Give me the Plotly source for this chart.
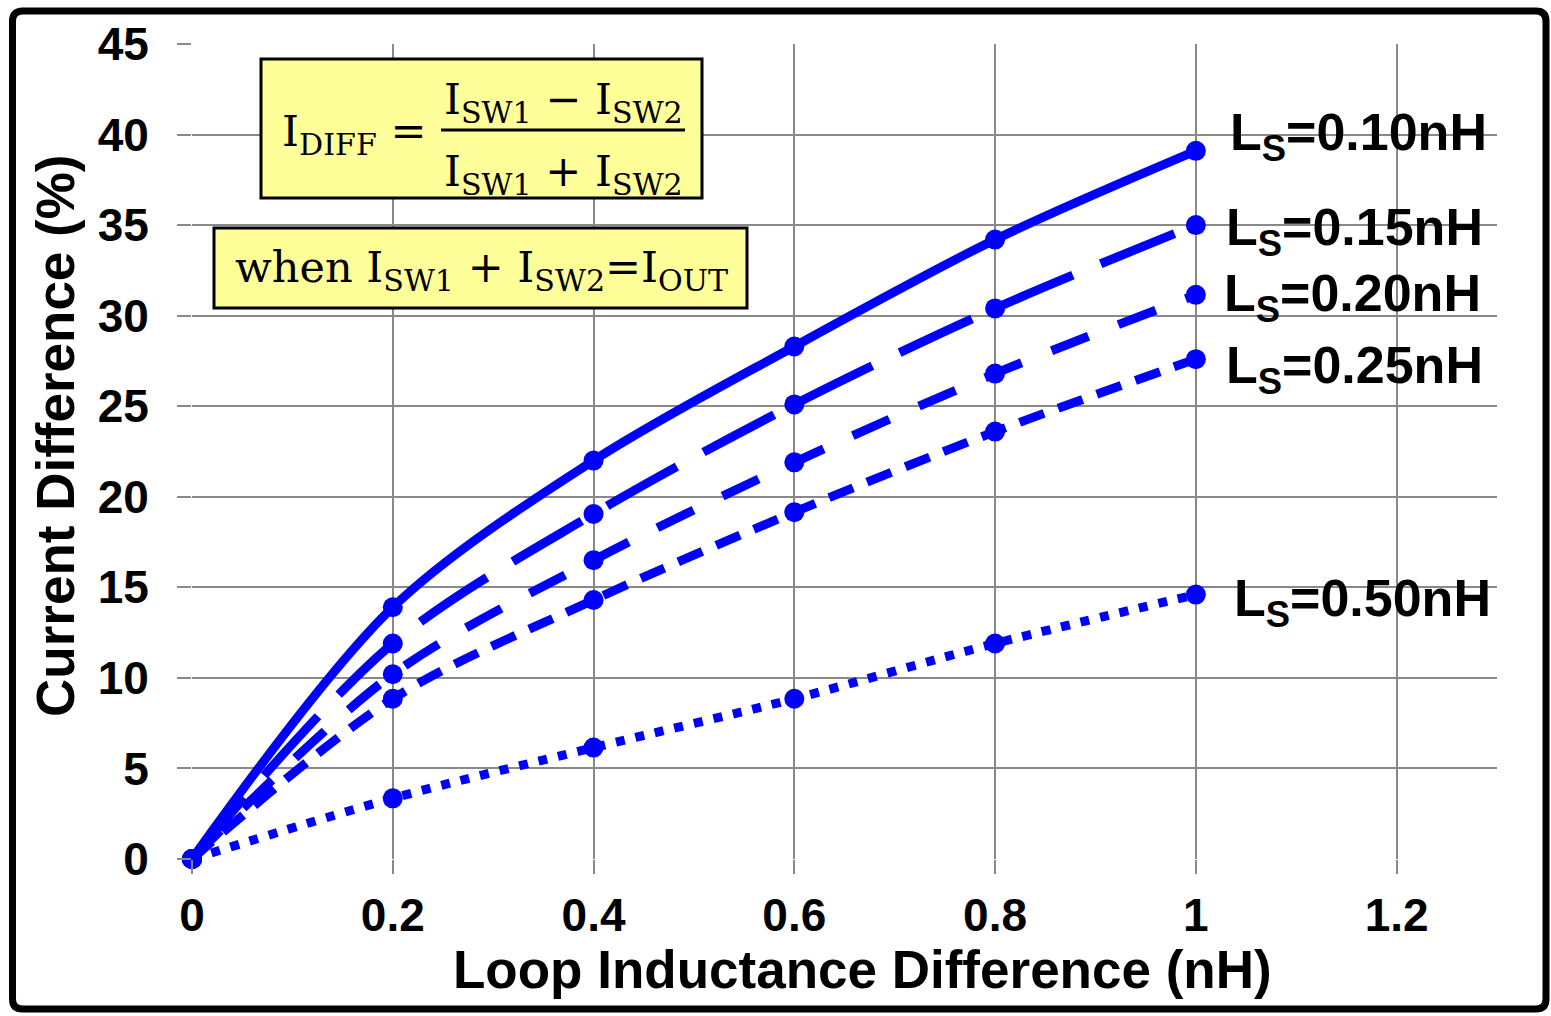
import plotly.graph_objects as go

# ---- data ----
x_vals = [0, 0.2, 0.4, 0.6, 0.8, 1.0]
ls_010 = [0, 13.9, 22.0, 28.3, 34.2, 39.1]
ls_015 = [0, 11.9, 19.05, 25.1, 30.4, 35.0]
ls_020 = [0, 10.2, 16.5, 21.9, 26.8, 31.15]
ls_025 = [0, 8.85, 14.3, 19.15, 23.6, 27.6]
ls_050 = [0, 3.35, 6.15, 8.85, 11.9, 14.6]
series_names = ["L<sub>S</sub>=0.10nH", "L<sub>S</sub>=0.15nH", "L<sub>S</sub>=0.20nH",
                "L<sub>S</sub>=0.25nH", "L<sub>S</sub>=0.50nH"]
x_ticks = [0, 0.2, 0.4, 0.6, 0.8, 1.0, 1.2]
x_tick_text = ["0", "0.2", "0.4", "0.6", "0.8", "1", "1.2"]
y_ticks = list(range(0, 50, 5))

W, H = 1551, 1016
L, R, T, B = 192, 1497, 44, 859
BLUE = "#0000FF"
GRID = "#898989"
SANS = "Liberation Sans, Arial, sans-serif"
SERIF = "DejaVu Serif, serif"


def px(x):
    return (x - L) / (R - L)


def py(y):
    return (B - y) / (B - T)


fig = go.Figure()
series = [ls_010, ls_015, ls_020, ls_025, ls_050]
dashes = ["solid", "80px,30px", "40px,32px", "26px,15px", "9px,11px"]
for vals, d, name in zip(series, dashes, series_names):
    fig.add_trace(go.Scatter(
        x=x_vals, y=vals, mode="lines+markers", name=name,
        line=dict(color=BLUE, width=9, dash=d, shape="spline", smoothing=0.9),
        marker=dict(color=BLUE, size=20),
        cliponaxis=False, showlegend=False))

# series labels (left edge px, cap-centre px)
label_pos = [(1228, 133), (1224, 228), (1222, 294), (1224, 366), (1232, 599)]
annotations = []
for name, (lx, ly) in zip(series_names, label_pos):
    annotations.append(dict(
        xref="paper", yref="paper", x=px(lx), y=py(ly + 3), xanchor="left", yanchor="middle",
        text=name, showarrow=False,
        font=dict(family=SANS, size=52, color="black", weight="bold")))

# axis titles
annotations.append(dict(xref="paper", yref="paper", x=px(862), y=py(969), xanchor="center",
                        yanchor="middle", text="Loop Inductance Difference (nH)", showarrow=False,
                        font=dict(family=SANS, size=53, color="black", weight="bold")))
annotations.append(dict(xref="paper", yref="paper", x=px(55), y=py(436), xanchor="center",
                        yanchor="middle", text="Current Difference (%)", showarrow=False, textangle=-90,
                        font=dict(family=SANS, size=53, color="black", weight="bold")))

# formula
FS = 43
annotations.append(dict(xref="paper", yref="paper", x=px(280), y=py(134), xanchor="left", yanchor="middle",
                        text="I<sub>DIFF</sub> =", showarrow=False,
                        font=dict(family=SERIF, size=FS, color="black")))
annotations.append(dict(xref="paper", yref="paper", x=px(563), y=py(102), xanchor="center", yanchor="middle",
                        text="I<sub>SW1</sub> − I<sub>SW2</sub>", showarrow=False,
                        font=dict(family=SERIF, size=FS, color="black")))
annotations.append(dict(xref="paper", yref="paper", x=px(563), y=py(174), xanchor="center", yanchor="middle",
                        text="I<sub>SW1</sub> + I<sub>SW2</sub>", showarrow=False,
                        font=dict(family=SERIF, size=FS, color="black")))
annotations.append(dict(xref="paper", yref="paper", x=px(233), y=py(270), xanchor="left", yanchor="middle",
                        text="when I<sub>SW1</sub> + I<sub>SW2</sub>=I<sub>OUT</sub>", showarrow=False,
                        font=dict(family=SERIF, size=FS, color="black")))

shapes = []
shapes.append(dict(type="rect", xref="paper", yref="paper", x0=px(261), x1=px(702), y0=py(198), y1=py(59),
                   fillcolor="#FFFF99", line=dict(color="black", width=3), layer="above"))
shapes.append(dict(type="rect", xref="paper", yref="paper", x0=px(214), x1=px(747), y0=py(308), y1=py(228),
                   fillcolor="#FFFF99", line=dict(color="black", width=3), layer="above"))
shapes.append(dict(type="line", xref="paper", yref="paper", x0=px(441), x1=px(685), y0=py(130), y1=py(130),
                   line=dict(color="black", width=3), layer="above"))

# rounded outer frame
fl, fr, ft, fb, rr = 12.5, 1546, 11, 1009, 10


def P(x, y):
    return f"{px(x):.5f},{py(y):.5f}"


path = (f"M {P(fl + rr, ft)} L {P(fr - rr, ft)} Q {P(fr, ft)} {P(fr, ft + rr)} "
        f"L {P(fr, fb - rr)} Q {P(fr, fb)} {P(fr - rr, fb)} "
        f"L {P(fl + rr, fb)} Q {P(fl, fb)} {P(fl, fb - rr)} "
        f"L {P(fl, ft + rr)} Q {P(fl, ft)} {P(fl + rr, ft)} Z")
shapes.append(dict(type="path", xref="paper", yref="paper", path=path,
                   line=dict(color="black", width=7), layer="above"))

fig.update_layout(
    width=W, height=H,
    margin=dict(l=L, r=W - R, t=T, b=H - B, pad=0),
    paper_bgcolor="white", plot_bgcolor="white",
    annotations=annotations, shapes=shapes,
    showlegend=False,
)
fig.update_xaxes(range=[0, 1.3], tickvals=x_ticks, ticktext=x_tick_text,
                 showgrid=True, gridcolor=GRID, gridwidth=2, zeroline=False, showline=False,
                 ticks="outside", ticklen=14, tickwidth=2, tickcolor=GRID, ticklabelstandoff=2,
                 tickfont=dict(family=SANS, size=46, color="black", weight="bold"),
                 automargin=False, fixedrange=True)
fig.update_yaxes(range=[0, 45], tickvals=y_ticks,
                 showgrid=True, gridcolor=GRID, gridwidth=2, zeroline=False, showline=False,
                 ticks="outside", ticklen=14, tickwidth=2, tickcolor=GRID, ticklabelstandoff=19,
                 tickfont=dict(family=SANS, size=46, color="black", weight="bold"),
                 automargin=False, fixedrange=True)

fig.write_html("out.html")
